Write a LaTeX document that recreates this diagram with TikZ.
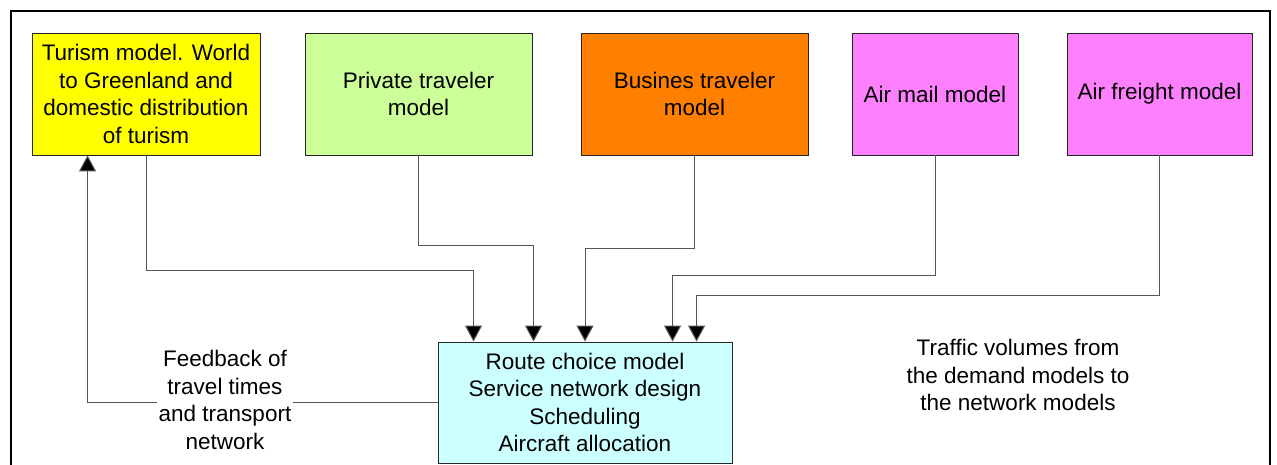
\documentclass[tikz,border=0pt]{standalone}
\usepackage{fontspec}
\setmainfont{Liberation Sans}
\usetikzlibrary{arrows.meta,calc}
\definecolor{cyel}{HTML}{FFFF00}
\definecolor{cgrn}{HTML}{CCFF99}
\definecolor{corg}{HTML}{FF8000}
\definecolor{cpnk}{HTML}{FF80FF}
\definecolor{ccyn}{HTML}{CCFFFF}
\definecolor{cline}{HTML}{555555}
\begin{document}
\begin{tikzpicture}[x=1pt,y=-1pt,
  box/.style={draw=black!85,line width=0.9pt,align=center,inner sep=0pt,
    minimum height=122pt,font=\fontsize{22.5}{27.5}\selectfont},
  lbl/.style={align=center,inner sep=2pt,font=\fontsize{22.5}{27.5}\selectfont},
  conn/.style={draw=cline,line width=1pt},
  arr/.style={conn,-{Triangle[width=17pt,length=16pt,fill=black]}}]
\useasboundingbox (0,0) rectangle (1277,465);
\draw[line width=2.5pt] (11,470) -- (11,11) -- (1270,11) -- (1270,470);

\node[box,fill=cyel,minimum width=228pt] (yellow) at (146,94)
  {Turism model. World\\to Greenland and\\domestic distribution\\of turism};
\node[box,fill=cgrn,minimum width=227pt] (green) at (418.5,94)
  {Private traveler\\model};
\node[box,fill=corg,minimum width=227pt] (orange) at (694.5,94)
  {Busines traveler\\model};
\node[box,fill=cpnk,minimum width=166pt] (mail) at (935,94)
  {Air mail model};
\node[box,fill=cpnk,minimum width=185pt] (freight) at (1159.5,94)
  {Air freight model};
\node[box,fill=ccyn,minimum width=294pt,minimum height=121pt] (blue) at (585,402.5)
  {Route choice model\\Service network design\\Scheduling\\Aircraft allocation};

\coordinate (in1) at ($(blue.north west)+(36,0)$);
\coordinate (in2) at ($(blue.north west)+(96,0)$);
\coordinate (in3) at (blue.north);
\coordinate (in4) at ($(blue.north west)+(235,0)$);
\coordinate (in5) at ($(blue.north west)+(259,0)$);
\coordinate (fb) at ($(yellow.south west)+(56,0)$);

\draw[arr] (yellow.south) -- ++(0,115) -| (in1);
\draw[arr] (green.south) -- ++(0,90) -| (in2);
\draw[arr] (orange.south) -- ++(0,93) -| (in3);
\draw[arr] (mail.south) -- ++(0,120) -| (in4);
\draw[arr] (freight.south) -- ++(0,140) -| (in5);
\draw[arr] (blue.west) -| (fb);

\node[lbl,fill=white] (fbtext) at (225,400)
  {Feedback of\\travel times\\and transport\\network};
\node[lbl] (traffic) at (1018,375)
  {Traffic volumes from\\the demand models to\\the network models};
\end{tikzpicture}
\end{document}
